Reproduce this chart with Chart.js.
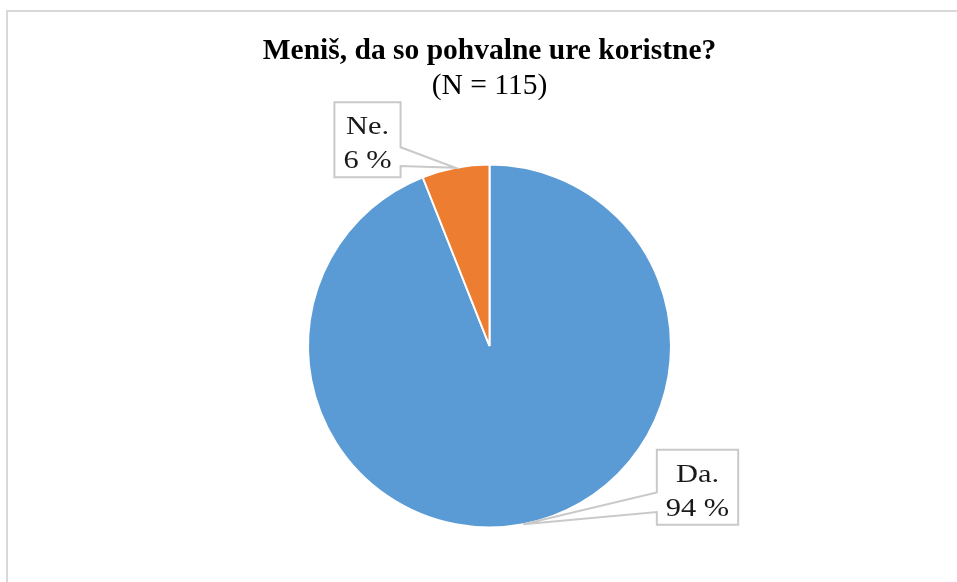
<!DOCTYPE html>
<html>
<head>
<meta charset="utf-8">
<script src="https://cdn.jsdelivr.net/npm/chart.js@4/dist/chart.umd.min.js"></script>
<style>
  html, body { margin: 0; padding: 0; background: #ffffff; overflow: hidden; }
  #wrap { position: relative; width: 957px; height: 582px; }
  #frame { position: absolute; left: 6px; top: 10px; width: 1000px; height: 700px;
           border-left: 2px solid #d9d9d9; border-top: 2px solid #d9d9d9; pointer-events: none; }
  canvas { position: absolute; left: 0; top: 0; }
</style>
</head>
<body>
<div id="wrap">
  <canvas id="c" width="957" height="582"></canvas>
  <div id="frame"></div>
</div>
<script>
// ---- data ----
const categories = ['Da.', 'Ne.'];
const percentValues = [94, 6];
const sliceColors = ['#5b9bd5', '#ed7d31'];
const titleText = 'Meniš, da so pohvalne ure koristne?';
const subtitleText = '(N = 115)';

const SERIF = '"Times New Roman", "Liberation Serif", serif';

// callout label plugin: box offset (dx, dy) of box centre from the slice's outer mid-point,
// pointer side ('left' or 'right')
const calloutPlugin = {
  id: 'callouts',
  afterDatasetsDraw(chart, args, opts) {
    const ctx = chart.ctx;
    const meta = chart.getDatasetMeta(0);
    ctx.save();
    ctx.font = opts.fontSize + 'px ' + SERIF;
    const sx = opts.stretch;
    meta.data.forEach((arc, i) => {
      const p = arc.getProps(['x', 'y', 'startAngle', 'endAngle', 'outerRadius'], true);
      const mid = (p.startAngle + p.endAngle) / 2;
      const ax = p.x + Math.cos(mid) * p.outerRadius;
      const ay = p.y + Math.sin(mid) * p.outerRadius;
      const cfg = opts.boxes[i];
      const lines = [categories[i], percentValues[i] + ' %'];
      const tw = Math.max(...lines.map(l => ctx.measureText(l).width)) * sx;
      const w = tw + 2 * opts.padX;
      const h = opts.boxHeight;
      const cx = ax + cfg.dx, cy = ay + cfg.dy;
      const l = cx - w / 2, r = cx + w / 2, t = cy - h / 2, b = cy + h / 2;
      const b1 = t + h * cfg.base[0], b2 = t + h * cfg.base[1];
      ctx.beginPath();
      if (cfg.side === 'right') {
        ctx.moveTo(l, t); ctx.lineTo(r, t); ctx.lineTo(r, b1);
        ctx.lineTo(ax, ay); ctx.lineTo(r, b2); ctx.lineTo(r, b); ctx.lineTo(l, b);
      } else {
        ctx.moveTo(l, t); ctx.lineTo(r, t); ctx.lineTo(r, b); ctx.lineTo(l, b);
        ctx.lineTo(l, b2); ctx.lineTo(ax, ay); ctx.lineTo(l, b1);
      }
      ctx.closePath();
      ctx.fillStyle = '#ffffff';
      ctx.fill();
      ctx.lineWidth = 2;
      ctx.strokeStyle = '#c9c9c9';
      ctx.lineJoin = 'miter';
      ctx.stroke();
      ctx.fillStyle = '#1a1a1a';
      ctx.textAlign = 'center';
      ctx.textBaseline = 'alphabetic';
      [opts.baseline1, opts.baseline2].forEach((bl, k) => {
        ctx.save();
        ctx.translate(cx, t + bl);
        ctx.scale(sx, 1);
        ctx.fillText(lines[k], 0, 0);
        ctx.restore();
      });
    });
    ctx.restore();
  }
};

new Chart(document.getElementById('c'), {
  type: 'pie',
  data: {
    labels: categories,
    datasets: [{
      data: percentValues,
      backgroundColor: sliceColors,
      borderColor: '#ffffff',
      borderWidth: 2,
      radius: 181.5
    }]
  },
  options: {
    responsive: false,
    animation: false,
    events: [],
    layout: { padding: { left: 22, right: 0, top: 0, bottom: 11 } },
    plugins: {
      legend: { display: false },
      tooltip: { enabled: false },
      title: {
        display: true,
        text: titleText,
        color: '#000000',
        font: { family: SERIF, size: 29.5, weight: 'bold', lineHeight: 1.2 },
        padding: { top: 33.5, bottom: 0 }
      },
      subtitle: {
        display: true,
        text: subtitleText,
        color: '#000000',
        font: { family: SERIF, size: 29.5, weight: 'normal', lineHeight: 1.2 },
        padding: { top: 0, bottom: 16.7 }
      },
      callouts: {
        fontSize: 26,
        stretch: 1.17,
        padX: 9,
        boxHeight: 75,
        baseline1: 32,
        baseline2: 66,
        boxes: [
          { dx: 174, dy: -37, side: 'left', base: [0.57, 0.83] },
          { dx: -88, dy: -28, side: 'right', base: [0.6, 0.85] }
        ]
      }
    }
  },
  plugins: [calloutPlugin]
});
</script>
</body>
</html>
